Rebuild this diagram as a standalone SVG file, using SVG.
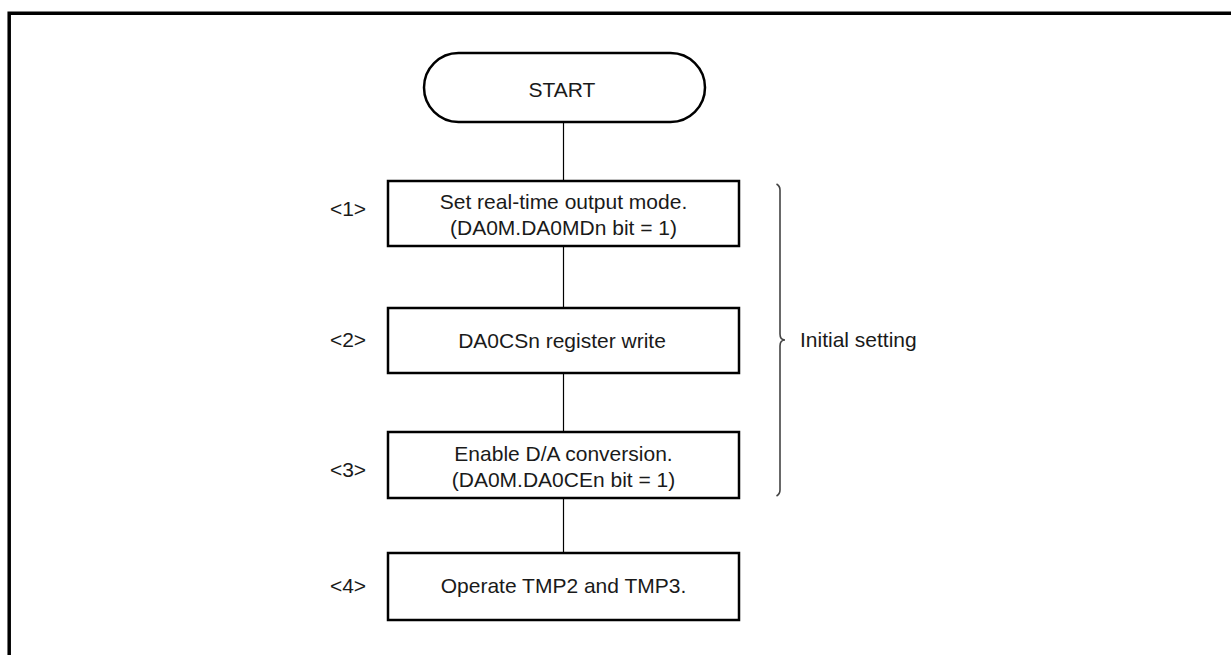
<svg xmlns="http://www.w3.org/2000/svg" width="1231" height="655" viewBox="0 0 1231 655">
<style>
text{font-family:"Liberation Sans",Arial,sans-serif;font-size:21px;fill:#1a1a1a}
.c{text-anchor:middle}
.box{fill:#fff;stroke:#000;stroke-width:2.5}
.con{stroke:#000;stroke-width:1.2;fill:none}
.brace{stroke:#444;stroke-width:1.6;fill:none}
</style>
<rect width="1231" height="655" fill="#fff"/>
<path d="M9.2,655 V13.3 H1231" fill="none" stroke="#000" stroke-width="3.5"/>
<g id="connectors">
<line class="con" x1="563.5" y1="122" x2="563.5" y2="181"/>
<line class="con" x1="563.5" y1="246" x2="563.5" y2="308"/>
<line class="con" x1="563.5" y1="373" x2="563.5" y2="432"/>
<line class="con" x1="563.5" y1="498" x2="563.5" y2="553"/>
</g>
<g id="start">
<rect class="box" x="424" y="53" width="281" height="69" rx="34.5" stroke-width="2"/>
<text class="c" x="562" y="97">START</text>
</g>
<g id="step1">
<rect class="box" x="388" y="181" width="351" height="65"/>
<text class="c" x="563.5" y="209">Set real-time output mode.</text>
<text class="c" x="563.5" y="235">(DA0M.DA0MDn bit = 1)</text>
<text class="c" x="348" y="216">&lt;1&gt;</text>
</g>
<g id="step2">
<rect class="box" x="388" y="308" width="351" height="65"/>
<text class="c" x="562" y="348">DA0CSn register write</text>
<text class="c" x="348" y="347">&lt;2&gt;</text>
</g>
<g id="step3">
<rect class="box" x="388" y="432" width="351" height="66"/>
<text class="c" x="563.5" y="461">Enable D/A conversion.</text>
<text class="c" x="563.5" y="487">(DA0M.DA0CEn bit = 1)</text>
<text class="c" x="348" y="477">&lt;3&gt;</text>
</g>
<g id="step4">
<rect class="box" x="388" y="553" width="351" height="67"/>
<text class="c" x="563.5" y="593">Operate TMP2 and TMP3.</text>
<text class="c" x="348" y="593">&lt;4&gt;</text>
</g>
<g id="initial-setting">
<path class="brace" d="M776.5,184 Q780,186 780,190 V334 Q780,340 785,340 Q780,340 780,346 V490 Q780,494 776.5,496"/>
<text x="800" y="347">Initial setting</text>
</g>
</svg>
